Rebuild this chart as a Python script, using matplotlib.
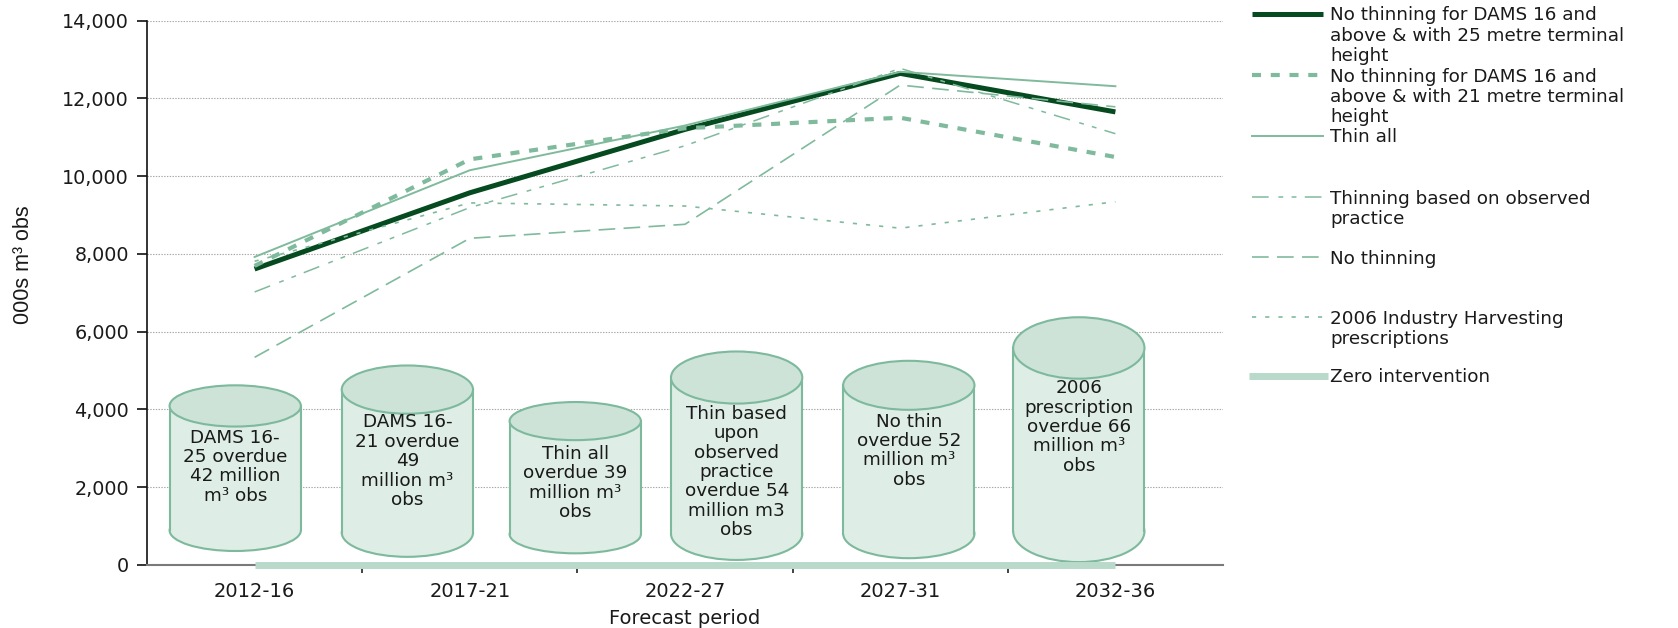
import numpy as np
import matplotlib
matplotlib.use('Agg')
import matplotlib.pyplot as plt
import matplotlib.patches as patches
from matplotlib.lines import Line2D
from matplotlib.ticker import StrMethodFormatter

# Forecast periods and volumes (000s m3 obs)
periods = ['2012-16', '2017-21', '2022-27', '2027-31', '2032-36']
dams25 = [7610, 9570, 11200, 12640, 11650]
dams21 = [7690, 10430, 11230, 11500, 10490]
thin_all = [7920, 10150, 11300, 12680, 12310]
observed = [7020, 9190, 10780, 12770, 11090]
no_thin = [5340, 8400, 8760, 12340, 11780]
ind2006 = [7810, 9310, 9230, 8660, 9340]
zero = [0, 0, 0, 0, 0]

series_labels = [
    'No thinning for DAMS 16 and\nabove & with 25 metre terminal\nheight',
    'No thinning for DAMS 16 and\nabove & with 21 metre terminal\nheight',
    'Thin all',
    'Thinning based on observed\npractice',
    'No thinning',
    '2006 Industry Harvesting\nprescriptions',
    'Zero intervention',
]

# overdue volume "cans"
cyl_labels = [
    'DAMS 16-\n25 overdue\n42 million\nm³ obs',
    'DAMS 16-\n21 overdue\n49\nmillion m³\nobs',
    'Thin all\noverdue 39\nmillion m³\nobs',
    'Thin based\nupon\nobserved\npractice\noverdue 54\nmillion m3\nobs',
    'No thin\noverdue 52\nmillion m³\nobs',
    '2006\nprescription\noverdue 66\nmillion m³\nobs',
]
cyl_x = [-0.09, 0.71, 1.49, 2.24, 3.04, 3.83]
cyl_top = [4090, 4510, 3700, 4820, 4620, 5580]
cyl_base = [890, 830, 790, 800, 805, 865]
cyl_cap = [530, 620, 490, 670, 630, 790]
cyl_text_y = [2530, 2670, 2110, 2390, 2940, 3550]

W, H = 1678, 628
mid = '#80ba9d'
dark = '#064a1f'
light = '#b9d9cb'
txt = '#1a1a1a'
plt.rcParams['lines.scale_dashes'] = False
plt.rcParams['font.family'] = ['DejaVu Sans']

styles = [
    dict(color=dark, lw=3.6, solid_capstyle='butt'),
    dict(color=mid, lw=3.0, dashes=(6.5, 7)),
    dict(color=mid, lw=1.4),
    dict(color=mid, lw=1.1, dashes=(12, 7, 3.5, 6, 3.5, 6)),
    dict(color=mid, lw=1.2, dashes=(12, 6)),
    dict(color=mid, lw=1.2, dashes=(3, 6.5)),
    dict(color=light, lw=5, solid_capstyle='butt'),
]


def draw_cylinder(ax, x, base, top, cap, label, ty, w=0.61):
    body = '#deede5'
    lid = '#cde3d8'
    edge = '#7db99c'
    ax.add_patch(patches.Ellipse((x, base), w, 2 * cap, fc=body, ec=edge, lw=1.5, zorder=2))
    ax.add_patch(patches.Rectangle((x - w / 2, base), w, top - base, fc=body, ec='none', zorder=2))
    ax.plot([x - w / 2, x - w / 2], [base, top], color=edge, lw=1.5, zorder=2)
    ax.plot([x + w / 2, x + w / 2], [base, top], color=edge, lw=1.5, zorder=2)
    ax.add_patch(patches.Ellipse((x, top), w, 2 * cap, fc=lid, ec=edge, lw=1.5, zorder=2))
    ax.text(x, ty, label, ha='center', va='center', multialignment='center',
            fontsize=13.2, color=txt, linespacing=1.1, zorder=3)


fig = plt.figure(figsize=(W / 100, H / 100), dpi=100)
ax = fig.add_axes([147 / W, 1 - 565 / H, (1223 - 147) / W, (565 - 20.5) / H])

for i in range(len(cyl_x)):
    draw_cylinder(ax, cyl_x[i], cyl_base[i], cyl_top[i], cyl_cap[i], cyl_labels[i], cyl_text_y[i])

xs = np.arange(len(periods))
all_series = [dams25, dams21, thin_all, observed, no_thin, ind2006, zero]
for vals, st in zip(all_series, styles):
    ax.plot(xs, vals, zorder=4, clip_on=False, **st)

ax.set_xlim(-0.5, 4.5)
ax.set_ylim(0, 14000)
ax.set_yticks(np.arange(0, 14001, 2000))
ax.yaxis.set_major_formatter(StrMethodFormatter('{x:,.0f}'))
ax.yaxis.grid(True, linestyle=(0, (1, 1)), color='#a8a8a8', lw=0.8)
ax.set_axisbelow(True)

ax.set_xticks([0.5, 1.5, 2.5, 3.5])
ax.set_xticklabels([])
ax.set_xticks(xs, minor=True)
ax.set_xticklabels(periods, minor=True)
ax.tick_params(axis='x', which='major', length=6, width=1.2, color='#222222', direction='out')
ax.tick_params(axis='x', which='minor', length=0, pad=12, labelsize=14, labelcolor=txt)
ax.tick_params(axis='y', length=7, width=1.2, color='#111111', pad=6, labelsize=13.8, labelcolor=txt)

for s in ['top', 'right']:
    ax.spines[s].set_visible(False)
ax.spines['left'].set_color('#111111')
ax.spines['left'].set_linewidth(1.2)
ax.spines['bottom'].set_color('#7a7a7a')
ax.spines['bottom'].set_linewidth(1.5)

ax.set_xlabel('Forecast period', fontsize=14, color=txt, labelpad=6)
fig.text(24 / W, 1 - 265 / H, '000s m³ obs', rotation=90, ha='center', va='center',
         fontsize=15.5, color=txt, family=['Liberation Sans', 'DejaVu Sans'])

# legend, one 60 px slot per entry
handle_y = [14, 75, 136, 197, 257, 317, 376]
for lab, st, hy in zip(series_labels, styles, handle_y):
    x0, x1 = (1249, 1328) if st['color'] == light else (1252, 1323)
    fig.add_artist(Line2D([x0 / W, x1 / W], [1 - hy / H, 1 - hy / H],
                          transform=fig.transFigure, **st))
    fig.text(1330 / W, 1 - (hy - 7.5) / H, lab, ha='left', va='top', fontsize=13.2,
             color=txt, linespacing=1.15)

fig.savefig('out.png', dpi=100)
